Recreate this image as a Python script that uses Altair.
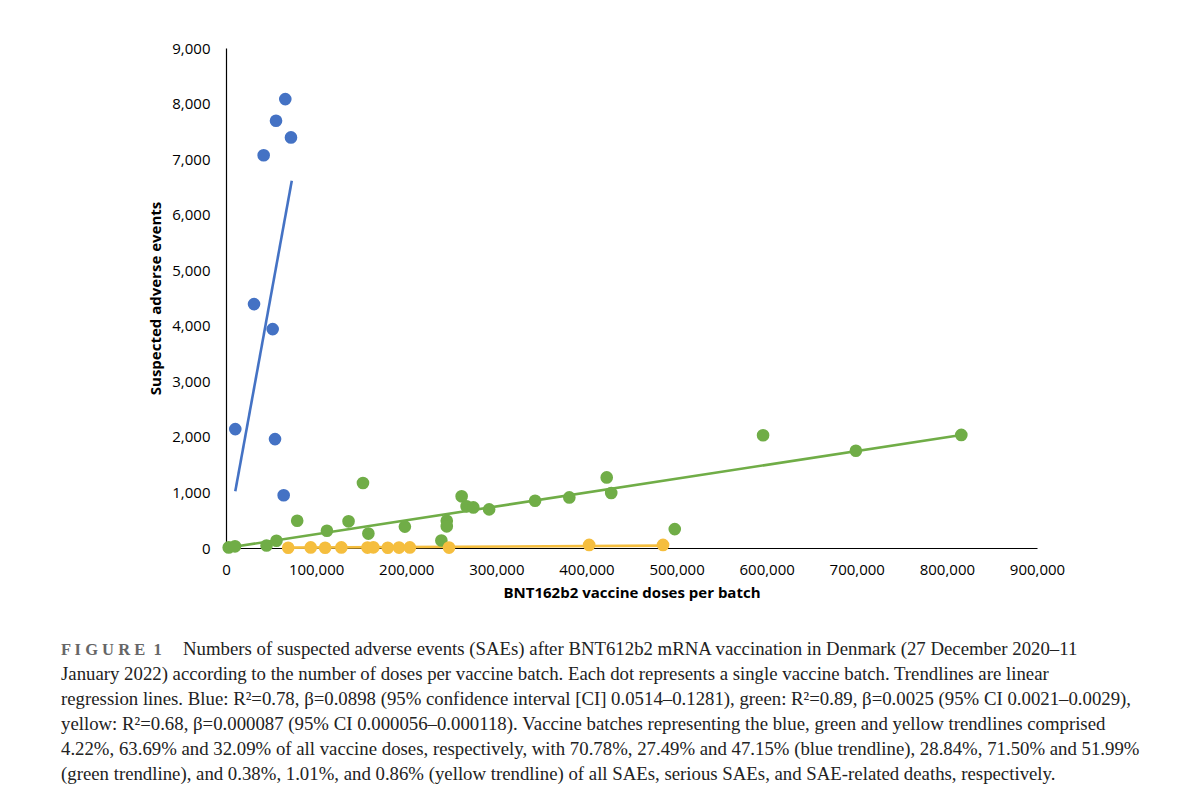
import altair as alt
import pandas as pd

# ---- data ----
blue_x = [65800, 55500, 72100, 41800, 31100, 51800, 10300, 54400, 64000]
blue_y = [8080, 7690, 7390, 7070, 4390, 3940, 2140, 1960, 950]

green_x = [3000, 10000, 45000, 56000, 79000, 112000, 136000, 152000, 158000,
           198500, 239000, 245000, 245000, 261500, 267000, 274500, 292000,
           343000, 381000, 422500, 427500, 498000, 596000, 699000, 816000]
green_y = [10, 30, 45, 130, 490, 310, 480, 1170, 260,
           385, 135, 490, 390, 930, 750, 730, 695,
           850, 910, 1270, 990, 340, 2030, 1750, 2035]

yellow_x = [69000, 94000, 110000, 128000, 157000, 163500, 179500, 192000,
            204000, 247500, 403000, 485000]
yellow_y = [5, 10, 5, 10, 8, 12, 5, 8, 10, 8, 55, 55]

# trendline end points
blue_line_x = [10300, 73000]
blue_line_y = [1020, 6610]
green_line_x = [0, 816000]
green_line_y = [0, 2035]
yellow_line_x = [69000, 485000]
yellow_line_y = [6, 42]

series_names = ["blue", "green", "yellow"]
series_colors = ["#4472C4", "#70AD47", "#F5BE3E"]

x_ticks = list(range(0, 900001, 100000))
y_ticks = list(range(0, 9001, 1000))

caption_head = "F I G U R E\u00a0\u00a01"
caption_first = ("Numbers of suspected adverse events (SAEs) after BNT612b2 mRNA "
                 "vaccination in Denmark (27 December 2020–11")
caption_lines = [
    "January 2022) according to the number of doses per vaccine batch. Each dot represents a single vaccine batch. Trendlines are linear",
    "regression lines. Blue: R²=0.78, β=0.0898 (95% confidence interval [CI] 0.0514–0.1281), green: R²=0.89, β=0.0025 (95% CI 0.0021–0.0029),",
    "yellow: R²=0.68, β=0.000087 (95% CI 0.000056–0.000118). Vaccine batches representing the blue, green and yellow trendlines comprised",
    "4.22%, 63.69% and 32.09% of all vaccine doses, respectively, with 70.78%, 27.49% and 47.15% (blue trendline), 28.84%, 71.50% and 51.99%",
    "(green trendline), and 0.38%, 1.01%, and 0.86% (yellow trendline) of all SAEs, serious SAEs, and SAE-related deaths, respectively.",
]

# ---- tables ----
pts = pd.concat([
    pd.DataFrame({"x": blue_x, "y": blue_y, "s": "blue"}),
    pd.DataFrame({"x": green_x, "y": green_y, "s": "green"}),
    pd.DataFrame({"x": yellow_x, "y": yellow_y, "s": "yellow"}),
], ignore_index=True)
lines = pd.concat([
    pd.DataFrame({"x": blue_line_x, "y": blue_line_y, "s": "blue"}),
    pd.DataFrame({"x": green_line_x, "y": green_line_y, "s": "green"}),
    pd.DataFrame({"x": yellow_line_x, "y": yellow_line_y, "s": "yellow"}),
], ignore_index=True)

xs = alt.Scale(domain=[0, 900000], nice=False, zero=True)
ys = alt.Scale(domain=[0, 9000], nice=False, zero=True)
cs = alt.Scale(domain=series_names, range=series_colors)

x_enc = alt.X("x:Q", scale=xs, axis=alt.Axis(
    values=x_ticks, format=",.0f", title="BNT162b2 vaccine doses per batch",
    labelPadding=14, titlePadding=8, labelFlush=False, labelOverlap=False))
y_enc = alt.Y("y:Q", scale=ys, axis=alt.Axis(
    values=y_ticks, format=",.0f", title="Suspected adverse events",
    labelPadding=16, titlePadding=8, labelFlush=False, labelOverlap=False))

line_layer = alt.Chart(lines).mark_line(strokeWidth=2.6).encode(
    x=x_enc, y=y_enc,
    color=alt.Color("s:N", scale=cs, legend=None),
    detail="s:N",
)
point_layer = alt.Chart(pts).mark_circle(size=160, opacity=1).encode(
    x="x:Q", y="y:Q",
    color=alt.Color("s:N", scale=cs, legend=None),
)

one = pd.DataFrame({"k": [0]})
head = alt.Chart(one).mark_text(
    text=caption_head, font="Liberation Serif", fontSize=16.5, fontWeight="bold",
    color="#666666", align="left", baseline="alphabetic"
).encode(x=alt.value(-165), y=alt.value(607))
first = alt.Chart(one).mark_text(
    text=caption_first, font="Liberation Serif", fontSize=18.8,
    color="#222222", align="left", baseline="alphabetic"
).encode(x=alt.value(-43), y=alt.value(607))
rest = alt.Chart(one).mark_text(
    text=caption_lines, font="Liberation Serif", fontSize=18.8, lineHeight=25,
    color="#222222", align="left", baseline="alphabetic"
).encode(x=alt.value(-165), y=alt.value(632))

chart = alt.layer(line_layer, point_layer, head, first, rest).properties(
    width=811, height=500,
    autosize=alt.AutoSizeParams(type="none"),
    padding={"left": 218, "top": 40, "right": 150, "bottom": 245},
).configure_view(stroke=None).configure_axis(
    grid=False, ticks=False, tickSize=0,
    domainColor="#000000", domainWidth=1.2,
    labelFont="Open Sans", labelFontSize=15, labelColor="#000000",
    titleFont="Open Sans", titleFontSize=15, titleFontWeight="bold",
    titleColor="#000000",
)

chart.save("out.html", embed_options={"renderer": "svg", "actions": False})
